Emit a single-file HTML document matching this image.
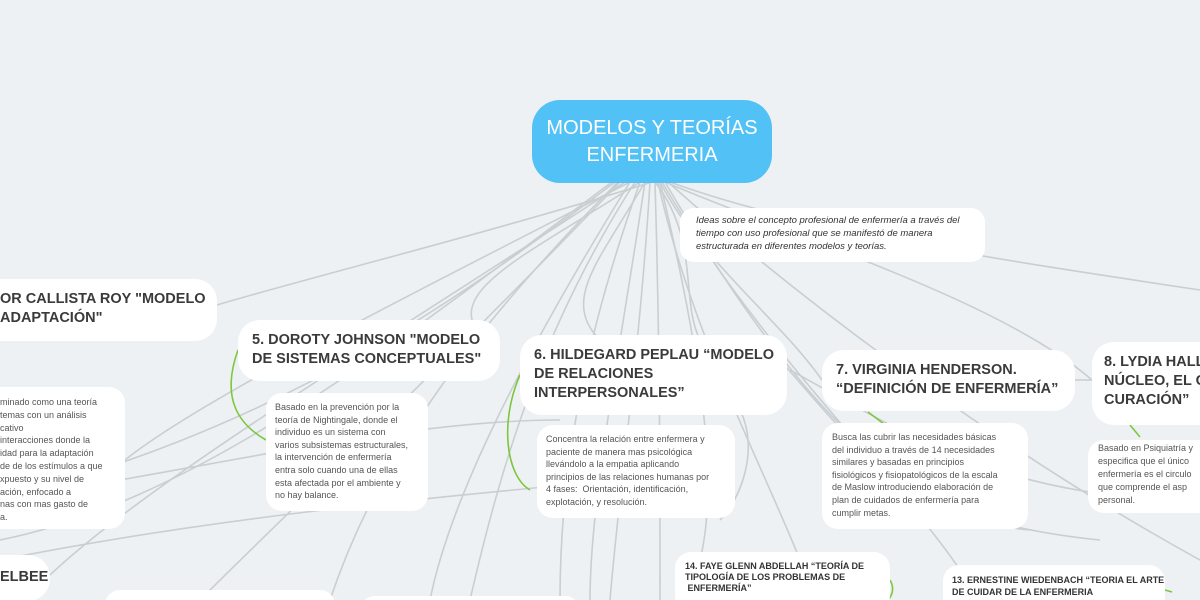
<!DOCTYPE html>
<html style="overflow:hidden;width:1200px;height:600px"><head><meta charset="utf-8"><style>
body{margin:0;width:1200px;height:600px;overflow:hidden;background:#edf1f4;font-family:"Liberation Sans",sans-serif;position:relative}
.b{position:absolute;background:#fff;border-radius:22px;color:#333;box-sizing:border-box;overflow:hidden}
.h{font-weight:bold;font-size:14.5px;line-height:19px;color:#3a3a3a}
.d{font-size:9px;line-height:14px;color:#555;border-radius:16px}
</style></head><body>
<svg width="1200" height="600" style="position:absolute;left:0;top:0" fill="none" stroke="#c9ced2" stroke-width="1.6">
<path d="M652 182 C500 230 300 280 217 305"/>
<path d="M640 182 C520 260 420 300 500 350"/>
<path d="M645 182 C600 260 560 300 600 340"/>
<path d="M660 182 C700 260 780 320 822 380"/>
<path d="M665 182 C800 240 1000 300 1092 380"/>
<path d="M670 182 C800 230 1000 260 1200 290"/>
<path d="M655 182 C700 240 680 300 700 340"/>
<path d="M630 182 C400 300 200 400 125 460"/>
<path d="M625 182 C400 330 150 480 50 575"/>
<path d="M620 182 C450 360 300 500 200 600"/>
<path d="M630 182 C520 360 450 500 430 600"/>
<path d="M640 182 C580 350 560 480 560 600"/>
<path d="M650 182 C640 350 620 480 610 600"/>
<path d="M655 182 C660 350 660 480 660 600"/>
<path d="M660 182 C700 350 720 480 700 560"/>
<path d="M662 182 C760 350 900 480 960 570"/>
<path d="M668 182 C800 300 1000 450 1200 560"/>
<path d="M612 182 C400 340 200 500 0 540"/>
<path d="M615 182 C420 330 260 430 0 500"/>
<path d="M635 182 C540 330 500 470 470 600"/>
<path d="M645 182 C620 350 590 500 590 600"/>
<path d="M665 182 C780 380 900 520 1030 530"/>
<path d="M790 370 C900 430 1000 500 1200 500"/>
<path d="M780 360 C860 450 900 520 1100 540"/>
<path d="M0 500 C200 470 400 420 560 420"/>
<path d="M0 560 C200 520 400 500 620 480"/>
<path d="M1075 380 L1092 380"/>
<path d="M740 410 C760 450 740 500 720 520"/>
<path d="M618 182 C480 320 380 450 330 600"/>
<path d="M658 182 C690 330 760 460 800 560"/>
</svg>
<svg width="1200" height="600" style="position:absolute;left:0;top:0" fill="none" stroke="#7dc73c" stroke-width="1.6">
<path d="M238 350 C220 400 240 425 266 440"/>
<path d="M520 375 C500 420 505 475 530 490"/>
<path d="M868 412 L884 424"/>
<path d="M1130 425 L1140 437"/>
<path d="M890 580 C896 590 890 598 888 600"/>
<path d="M1165 590 L1172 592"/>
</svg>
<div class="b" style="left:532px;top:100px;width:240px;height:83px;background:#51c1f6;border-radius:28px;color:#fff;font-size:20px;line-height:27px;text-align:center;padding-top:15px">MODELOS Y TEORÍAS<br>ENFERMERIA</div>
<div class="b" style="left:680px;top:208px;width:305px;height:54px;border-radius:14px;font-style:italic;font-size:9.5px;line-height:13px;padding:6px 16px">Ideas sobre el concepto profesional de enfermería a través del tiempo con uso profesional que se manifestó de manera estructurada en diferentes modelos y teorías.</div>
<div class="b h" style="left:-30px;top:279px;width:247px;height:62px;padding:11px 0 0 30px">OR CALLISTA ROY "MODELO<br>ADAPTACIÓN"</div>
<div class="b d" style="left:-20px;top:387px;width:145px;height:142px;padding:9px 0 0 20px;white-space:nowrap;line-height:12.8px">minado como una teoría<br>temas con un análisis<br>cativo<br>interacciones donde la<br>idad para la adaptación<br>de de los estímulos a que<br>xpuesto y su nivel de<br>ación, enfocado a<br>nas con mas gasto de<br>a.</div>
<div class="b h" style="left:238px;top:320px;width:262px;height:61px;padding:11px 0 0 14px">5. DOROTY JOHNSON "MODELO<br>DE SISTEMAS CONCEPTUALES"</div>
<div class="b d" style="left:266px;top:393px;width:162px;height:118px;padding:8px 0 0 9px;white-space:nowrap;line-height:12.6px">Basado en la prevención por la<br>teoría de Nightingale, donde el<br>individuo es un sistema con<br>varios subsistemas estructurales,<br>la intervención de enfermería<br>entra solo cuando una de ellas<br>esta afectada por el ambiente y<br>no hay balance.</div>
<div class="b h" style="left:520px;top:335px;width:267px;height:80px;padding:11px 0 0 14px">6. HILDEGARD PEPLAU “MODELO<br>DE RELACIONES<br>INTERPERSONALES”</div>
<div class="b d" style="left:537px;top:425px;width:198px;height:93px;padding:8px 0 0 9px;white-space:nowrap;line-height:12.6px">Concentra la relación entre enfermera y<br>paciente de manera mas psicológica<br>llevándolo a la empatia aplicando<br>principios de las relaciones humanas por<br>4 fases:&nbsp; Orientación, identificación,<br>explotación, y resolución.</div>
<div class="b h" style="left:822px;top:350px;width:253px;height:61px;padding:11px 0 0 14px">7. VIRGINIA HENDERSON.<br>“DEFINICIÓN DE ENFERMERÍA”</div>
<div class="b d" style="left:822px;top:423px;width:206px;height:106px;padding:8px 0 0 10px;white-space:nowrap;line-height:12.6px">Busca las cubrir las necesidades básicas<br>del individuo a través de 14 necesidades<br>similares y basadas en principios<br>fisiológicos y fisiopatológicos de la escala<br>de Maslow introduciendo elaboración de<br>plan de cuidados de enfermería para<br>cumplir metas.</div>
<div class="b h" style="left:1092px;top:342px;width:130px;height:83px;padding:11px 0 0 12px;white-space:nowrap">8. LYDIA HALL<br>NÚCLEO, EL C<br>CURACIÓN”</div>
<div class="b d" style="left:1088px;top:440px;width:130px;height:73px;padding:2px 0 0 10px;white-space:nowrap;line-height:13px">Basado en Psiquiatría y<br>especifica que el único<br>enfermería es el circulo<br>que comprende el asp<br>personal.</div>
<div class="b h" style="left:-30px;top:555px;width:80px;height:46px;padding:13px 0 0 30px">ELBEE</div>
<div class="b" style="left:105px;top:590px;width:230px;height:30px"></div>
<div class="b" style="left:360px;top:596px;width:220px;height:30px"></div>
<div class="b" style="left:675px;top:552px;width:215px;height:60px;border-radius:16px;font-weight:bold;font-size:9px;line-height:11px;padding:9px 0 0 10px">14. FAYE GLENN ABDELLAH “TEORÍA DE TIPOLOGÍA DE LOS PROBLEMAS DE<br>&nbsp;ENFERMERÍA”</div>
<div class="b" style="left:943px;top:565px;width:222px;height:50px;border-radius:16px;font-weight:bold;font-size:9px;line-height:12px;padding:9px 0 0 9px">13. ERNESTINE WIEDENBACH “TEORIA EL ARTE DE CUIDAR DE LA ENFERMERIA</div>
</body></html>
